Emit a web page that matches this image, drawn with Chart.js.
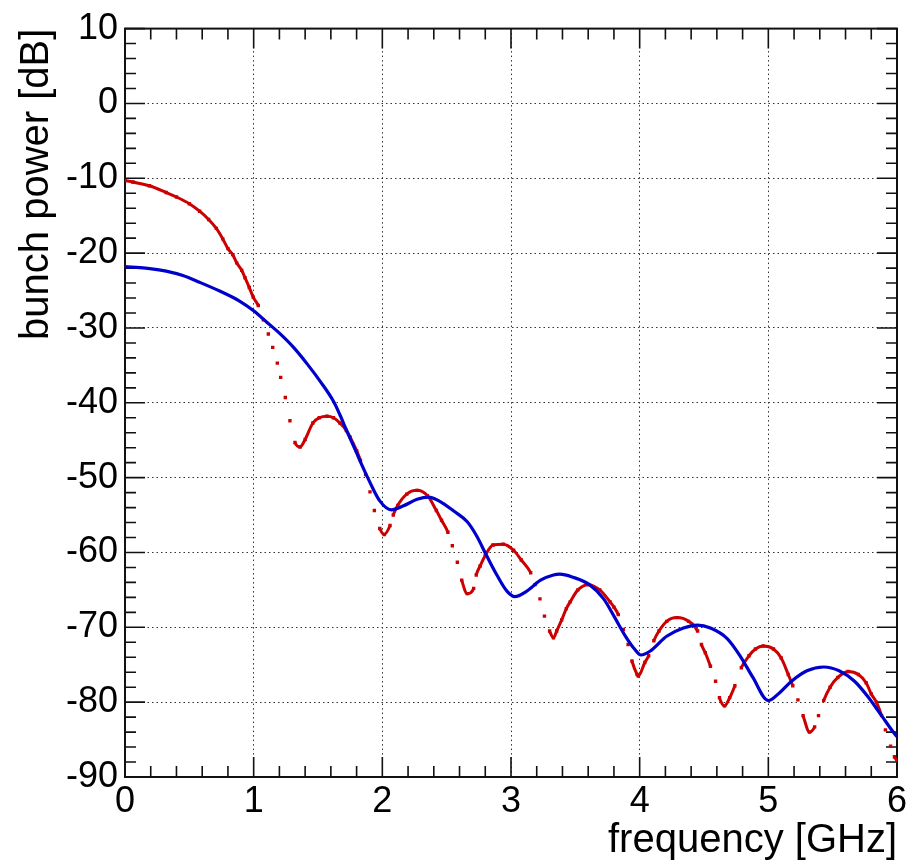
<!DOCTYPE html>
<html>
<head>
<meta charset="utf-8">
<script src="https://cdn.jsdelivr.net/npm/chart.js@4.4.1/dist/chart.umd.min.js"></script>
<style>
    body { margin: 0; background: #fff; }
    #wrap { width: 912px; height: 865px; }
</style>
</head>
<body>
<div id="wrap"><canvas id="bunchChart" width="912" height="865"></canvas></div>
<script>
// values (frequency in GHz, power in dB)
const redFreq = [0, 0.06, 0.19, 0.32, 0.40, 0.50, 0.58, 0.65, 0.71, 0.76, 0.80, 0.837, 0.868, 0.907, 0.933, 0.966,
    0.997, 1.036, 1.075, 1.114, 1.148, 1.184, 1.21, 1.246, 1.282, 1.321, 1.36,
    1.40, 1.46, 1.51, 1.57, 1.62, 1.67, 1.72, 1.75, 1.80, 1.83, 1.87, 1.904, 1.938, 1.98, 2.015,
    2.06, 2.085, 2.12, 2.19, 2.27, 2.35, 2.42, 2.46, 2.51, 2.544, 2.583, 2.617, 2.66,
    2.71, 2.73, 2.76, 2.80, 2.86, 2.94, 3.02, 3.08, 3.153, 3.187, 3.225, 3.26, 3.30, 3.33,
    3.355, 3.394, 3.43, 3.46, 3.52, 3.60, 3.69, 3.77, 3.80, 3.834, 3.873, 3.91, 3.94, 3.98, 3.99,
    4.04, 4.07, 4.11, 4.15, 4.21, 4.29, 4.38, 4.45, 4.48, 4.51, 4.55, 4.59, 4.62, 4.66,
    4.70, 4.74, 4.79, 4.85, 4.90, 4.96, 5.04, 5.10, 5.155, 5.19, 5.23, 5.27, 5.32,
    5.36, 5.39, 5.43, 5.48, 5.54, 5.62, 5.70, 5.76, 5.80, 5.84, 5.88, 5.91, 5.95, 5.98, 6.0];
const redPower = [-10.3, -10.5, -11.0, -11.9, -12.5, -13.4, -14.4, -15.5, -16.7, -18.1, -19.4, -20.2, -21.3, -22.3, -23.3, -24.6,
    -25.9, -27.0, -28.9, -30.8, -32.6, -34.7, -36.6, -39.3, -42.4, -45.3, -45.9,
    -44.9, -42.7, -42.0, -41.8, -42.0, -42.7, -43.7, -44.6, -46.4, -47.7, -49.6, -51.9, -54.4, -56.8, -57.6,
    -56.4, -55.0, -53.7, -52.2, -51.7, -52.4, -54.4, -55.7, -57.3, -59.1, -61.3, -63.7, -65.5,
    -64.8, -63.0, -61.8, -60.4, -59.0, -58.9, -59.7, -61.0, -62.7, -64.3, -66.2, -68.5, -70.5, -71.4,
    -70.5, -69.0, -67.5, -66.6, -65.0, -64.3, -65.0, -66.6, -67.3, -68.3, -70.3, -72.3, -74.5, -76.3, -76.5,
    -74.7, -73.8, -71.8, -70.5, -69.2, -68.7, -69.2, -70.5, -72.3, -73.4, -75.2, -77.2, -79.4, -80.5,
    -79.4, -77.8, -75.4, -73.8, -72.9, -72.5, -72.9, -74.1, -76.3, -77.8, -79.7, -81.8, -84.0,
    -83.3, -81.8, -79.8, -78.0, -76.7, -75.9, -76.3, -77.4, -78.9, -80.0, -81.8, -83.7, -85.9, -87.3, -87.8];

const blueFreq = [0, 0.16, 0.32, 0.45, 0.58, 0.74, 0.89, 1.0, 1.1, 1.2, 1.31, 1.42, 1.52, 1.62, 1.67,
    1.72, 1.80, 1.83, 1.90, 1.98, 2.07, 2.16, 2.27, 2.36, 2.45, 2.55, 2.66, 2.73, 2.81, 2.89,
    2.97, 3.03, 3.12, 3.23, 3.33, 3.38, 3.48, 3.61, 3.72, 3.81, 3.89, 3.96, 4.01, 4.08, 4.21,
    4.34, 4.45, 4.55, 4.68, 4.78, 4.88, 5.00, 5.09, 5.18, 5.30, 5.43, 5.55, 5.67, 5.78, 5.88, 5.98, 6.0];
const bluePower = [-21.8, -22.0, -22.4, -23.0, -23.9, -25.1, -26.4, -27.7, -29.2, -30.7, -32.6, -34.9, -37.2, -39.8, -41.6,
    -43.6, -46.7, -47.9, -50.5, -53.1, -54.3, -53.8, -52.9, -52.6, -53.2, -54.4, -55.9, -57.7, -60.4, -63.0,
    -65.2, -65.9, -65.2, -63.7, -63.0, -62.9, -63.3, -64.3, -66.2, -68.8, -71.2, -72.9, -73.7, -73.2, -71.2,
    -70.1, -69.7, -70.1, -71.5, -73.8, -76.7, -79.8, -78.7, -77.2, -75.8, -75.3, -75.8, -77.2, -79.4, -81.8, -84.2, -84.6];

const xTicks = [0, 1, 2, 3, 4, 5, 6];
const yTicks = [-90, -80, -70, -60, -50, -40, -30, -20, -10, 0, 10];

const RED = 'rgb(204,0,0)';
const BLUE = 'rgb(0,0,204)';
const FONT = '"Liberation Sans", Arial, Helvetica, sans-serif';

function toPoints(xs, ys) {
    let pts = [];
    for (let i = 0; i < xs.length; i++) {
        pts.push({x: xs[i], y: ys[i]});
    }
    return pts
}

// steep parts of the red curve show single markers, not a joined line
function steep(ctx) {
    const dx = Math.abs(ctx.p1.x - ctx.p0.x);
    const dy = Math.abs(ctx.p1.y - ctx.p0.y);
    return dy > 2.7 * dx;
}

// ROOT style frame with inner ticks on all four sides
const frameTicks = {
    id: 'frameTicks',
    beforeDatasetsDraw(chart) {
        const {ctx, chartArea: a, scales} = chart;
        const xs = scales.x, ys = scales.y;
        ctx.save();
        ctx.strokeStyle = '#111';
        ctx.lineWidth = 1.6;
        ctx.beginPath();
        for (let v = 0; v <= 6.0001; v += 0.2) {
            const px = xs.getPixelForValue(v);
            const major = Math.abs(v - Math.round(v)) < 0.01;
            const len = major ? 20 : 11;
            ctx.moveTo(px, a.bottom);
            ctx.lineTo(px, a.bottom - len);
            ctx.moveTo(px, a.top);
            ctx.lineTo(px, a.top + len);
        }
        for (let v = -90; v <= 10.0001; v += 2) {
            const py = ys.getPixelForValue(v);
            const major = Math.abs(v % 10) < 0.01;
            const len = major ? 20 : 11;
            ctx.moveTo(a.left, py);
            ctx.lineTo(a.left + len, py);
            ctx.moveTo(a.right, py);
            ctx.lineTo(a.right - len, py);
        }
        ctx.stroke();
        ctx.lineWidth = 2;
        ctx.strokeRect(a.left, a.top, a.right - a.left, a.bottom - a.top);
        ctx.restore();
    }
};

new Chart(document.getElementById('bunchChart').getContext('2d'), {
    type: 'scatter',
    data: {
        datasets: [
            {
                label: 'blue',
                data: toPoints(blueFreq, bluePower),
                showLine: true,
                borderColor: BLUE,
                borderWidth: 3.2,
                pointRadius: 0,
                cubicInterpolationMode: 'monotone'
            },
            {
                label: 'red',
                data: toPoints(redFreq, redPower),
                showLine: true,
                borderColor: RED,
                borderWidth: 3,
                pointStyle: 'rect',
                pointRadius: 2.4,
                pointBorderWidth: 0,
                pointBackgroundColor: RED,
                cubicInterpolationMode: 'monotone',
                segment: {
                    borderColor: ctx => steep(ctx) ? 'rgba(0,0,0,0)' : RED
                }
            }
        ]
    },
    options: {
        responsive: false,
        animation: false,
        devicePixelRatio: 1,
        layout: {padding: {top: 22, right: 15, left: 0, bottom: 0}},
        plugins: {legend: {display: false}, tooltip: {enabled: false}},
        scales: {
            x: {
                type: 'linear',
                min: 0,
                max: 6,
                afterBuildTicks: s => { s.ticks = xTicks.map(v => ({value: v})) },
                afterFit: s => { s.height = 88 },
                ticks: {color: '#000', font: {family: FONT, size: 36}, padding: 3},
                grid: {color: '#333', lineWidth: 1, drawTicks: false},
                border: {display: false, dash: [1.5, 3]},
                title: {
                    display: true,
                    text: 'frequency [GHz]',
                    align: 'end',
                    color: '#000',
                    font: {family: FONT, size: 40},
                    padding: {top: 0, bottom: 0}
                }
            },
            y: {
                type: 'linear',
                min: -90,
                max: 10,
                afterBuildTicks: s => { s.ticks = yTicks.map(v => ({value: v})) },
                afterFit: s => { s.width = 125 },
                ticks: {color: '#000', font: {family: FONT, size: 36}, padding: 7},
                grid: {color: '#333', lineWidth: 1, drawTicks: false},
                border: {display: false, dash: [1.5, 3]},
                title: {
                    display: true,
                    text: 'bunch power [dB]',
                    align: 'end',
                    color: '#000',
                    font: {family: FONT, size: 40},
                    padding: {top: 13, bottom: 0}
                }
            }
        }
    },
    plugins: [frameTicks]
});
</script>
</body>
</html>
